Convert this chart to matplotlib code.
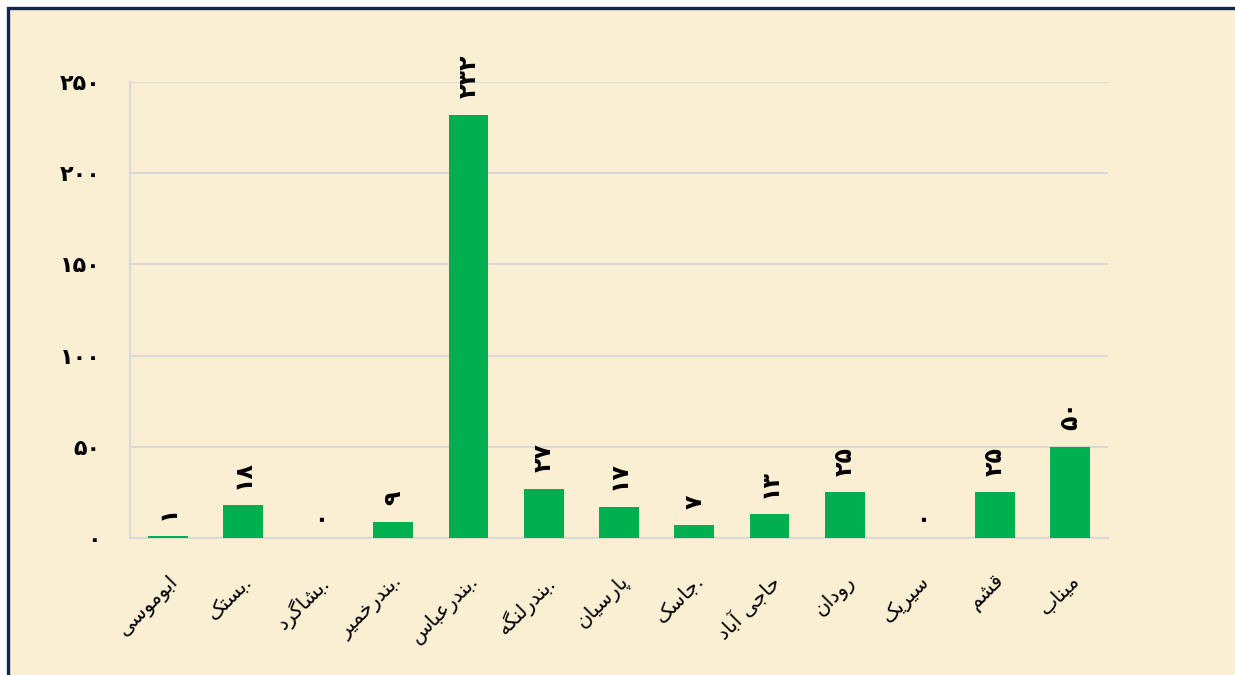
import matplotlib
matplotlib.use("Agg")
import matplotlib.pyplot as plt
from matplotlib.patches import Rectangle

# ---- data ----
categories = ["ابوموسی", "بستک.", "بشاگرد.", "بندرخمیر.", "بندرعباس.", "بندرلنگه.",
              "پارسیان", "جاسک.", "حاجی آباد", "رودان", "سیریک", "قشم", "میناب"]
values = [1, 18, 0, 9, 232, 27, 17, 7, 13, 25, 0, 25, 50]
yticks = [0, 50, 100, 150, 200, 250]

# ---- simple Persian shaping (presentation forms) ----
FORMS = {
    'ا': ('\uFE8D', '\uFE8E', None, None),
    'آ': ('\uFE81', '\uFE82', None, None),
    'ب': ('\uFE8F', '\uFE90', '\uFE91', '\uFE92'),
    'پ': ('\uFB56', '\uFB57', '\uFB58', '\uFB59'),
    'ت': ('\uFE95', '\uFE96', '\uFE97', '\uFE98'),
    'ج': ('\uFE9D', '\uFE9E', '\uFE9F', '\uFEA0'),
    'ح': ('\uFEA1', '\uFEA2', '\uFEA3', '\uFEA4'),
    'خ': ('\uFEA5', '\uFEA6', '\uFEA7', '\uFEA8'),
    'د': ('\uFEA9', '\uFEAA', None, None),
    'ر': ('\uFEAD', '\uFEAE', None, None),
    'س': ('\uFEB1', '\uFEB2', '\uFEB3', '\uFEB4'),
    'ش': ('\uFEB5', '\uFEB6', '\uFEB7', '\uFEB8'),
    'ع': ('\uFEC9', '\uFECA', '\uFECB', '\uFECC'),
    'ق': ('\uFED5', '\uFED6', '\uFED7', '\uFED8'),
    'ک': ('\uFB8E', '\uFB8F', '\uFB90', '\uFB91'),
    'گ': ('\uFB92', '\uFB93', '\uFB94', '\uFB95'),
    'ل': ('\uFEDD', '\uFEDE', '\uFEDF', '\uFEE0'),
    'م': ('\uFEE1', '\uFEE2', '\uFEE3', '\uFEE4'),
    'ن': ('\uFEE5', '\uFEE6', '\uFEE7', '\uFEE8'),
    'ه': ('\uFEE9', '\uFEEA', '\uFEEB', '\uFEEC'),
    'و': ('\uFEED', '\uFEEE', None, None),
    'ی': ('\uFBFC', '\uFBFD', '\uFBFE', '\uFBFF'),
}


def shape(word):
    out = []
    n = len(word)
    for i, ch in enumerate(word):
        if ch not in FORMS:
            out.append(ch)
            continue
        prev = word[i - 1] if i > 0 else None
        nxt = word[i + 1] if i < n - 1 else None
        join_prev = prev in FORMS and FORMS[prev][2] is not None
        join_next = nxt in FORMS and FORMS[ch][2] is not None
        iso, fin, ini, med = FORMS[ch]
        if join_prev and join_next:
            out.append(med)
        elif join_prev:
            out.append(fin)
        elif join_next:
            out.append(ini)
        else:
            out.append(iso)
    return out


def persian_label(s):
    dot = s.endswith('.')
    core = s.rstrip('.')
    glyphs = shape(core)
    vis = ''.join(reversed(glyphs))
    return vis + ('.' if dot else '')


PDIG = str.maketrans('0123456789', '۰۱۲۳۴۵۶۷۸۹')


def pnum(v):
    return str(v).translate(PDIG)


# ---- figure ----
W, H = 1235, 675
fig = plt.figure(figsize=(W / 100, H / 100), dpi=100, facecolor='white')
bg = '#FBEFD3'
fig.patches.append(Rectangle((8 / W, -0.05), 1.1, 1 - 8 / H + 0.05, transform=fig.transFigure,
                             facecolor=bg, edgecolor='#14274A', linewidth=2.4, zorder=-10))

ax = fig.add_axes([130 / W, 1 - 538 / H, (1108 - 130) / W, (538 - 82) / H])
ax.set_facecolor('none')

x = list(range(len(categories)))
ax.bar(x, values, width=0.53, color='#00B050', zorder=3)

ax.set_ylim(0, 250)
ax.set_xlim(-0.5, len(categories) - 0.5)
ax.set_yticks(yticks)
ax.set_yticklabels([pnum(v) for v in yticks], fontsize=16, fontweight='bold',
                   family='DejaVu Sans')
ax.tick_params(axis='y', length=0, pad=21)
ax.tick_params(axis='x', length=0, pad=24)
ax.grid(axis='y', color='#D9D9D9', linewidth=1.5, zorder=0)
for s in ['top', 'right']:
    ax.spines[s].set_visible(False)
for s in ['left', 'bottom']:
    ax.spines[s].set_color('#D9D9D9')
    ax.spines[s].set_linewidth(1.5)

ax.set_xticks(x)
ax.set_xticklabels([persian_label(c) for c in categories], rotation=45, ha='right',
                   va='top', rotation_mode='anchor', fontsize=14.5, family='DejaVu Sans')
for lbl in ax.get_xticklabels():
    lbl.set_x(lbl.get_position()[0])

for xi, v in zip(x, values):
    ax.annotate(pnum(v), (xi, v), xytext=(0, 12), textcoords='offset points',
                ha='center', va='bottom', rotation=90, fontsize=17, fontweight='bold',
                family='DejaVu Sans', annotation_clip=False)

fig.savefig('out.png', dpi=100, facecolor='white')
